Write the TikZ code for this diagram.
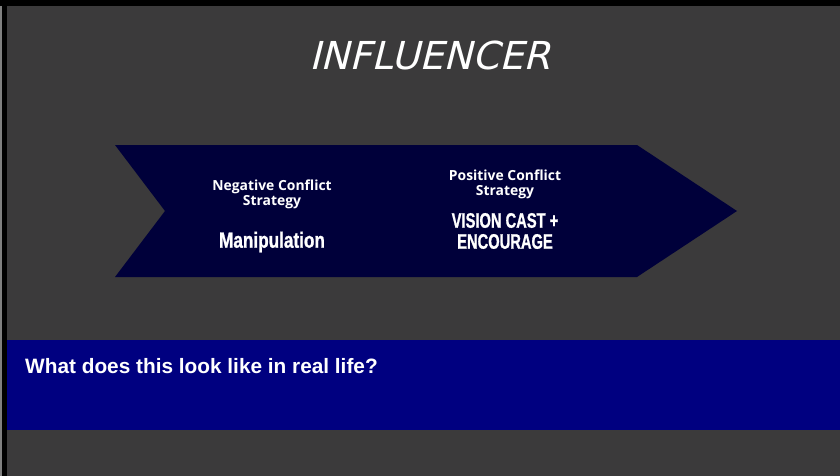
\documentclass[tikz,border=0pt]{standalone}
\usepackage{fontspec}
\setmainfont{Open Sans}
\newfontfamily\titlefont[FakeSlant=0.25]{DejaVu Sans}
\newfontfamily\impactfont[FakeStretch=0.78,FakeBold=1]{Liberation Sans}
\newfontfamily\impactcaps[FakeStretch=0.7,FakeBold=1]{Liberation Sans}
\newfontfamily\bandfont{Liberation Sans}
\definecolor{bgcol}{HTML}{3B3A3B}
\definecolor{chev}{HTML}{00003A}
\definecolor{band}{HTML}{000080}
\tikzset{
  small/.style={text=white,font=\fontsize{13.9}{15}\selectfont\bfseries,align=center,inner sep=0pt},
  big/.style={text=white,font=\fontsize{22}{22}\impactfont\bfseries,align=center,inner sep=0pt},
  bigcaps/.style={text=white,font=\fontsize{21}{21}\impactcaps\bfseries,align=center,inner sep=0pt},
}
\begin{document}
\begin{tikzpicture}[x=1pt,y=-1pt]
\useasboundingbox (0,0) rectangle (840,476);
\fill[bgcol] (0,0) rectangle (840,476);
\fill[black] (0,0) rectangle (840,6);
\fill[black] (2,0) rectangle (7,476);
\fill[gray] (0,6) rectangle (2,476);
\node[text=white,font=\fontsize{38.5}{40}\titlefont,inner sep=0pt] (title) at (430,55) {INFLUENCER};
\fill[chev] (115,145) -- (637,145) -- (737,211) -- (637,277) -- (115,277) -- (165,211) -- cycle;
\node[small] (neg) at (272,194) {Negative Conflict\\Strategy};
\node[big] (manip) at (272,242) {Manipulation};
\node[small] (pos) at (505,184) {Positive Conflict\\Strategy};
\node[bigcaps] (vision) at (505,231) {VISION CAST +\\ENCOURAGE};
\fill[band] (7,340) rectangle (840,430);
\node[anchor=west,text=white,font=\fontsize{20.8}{22}\bandfont\bfseries,inner sep=0pt] (q) at (25,366) {What does this look like in real life?};
\end{tikzpicture}
\end{document}
